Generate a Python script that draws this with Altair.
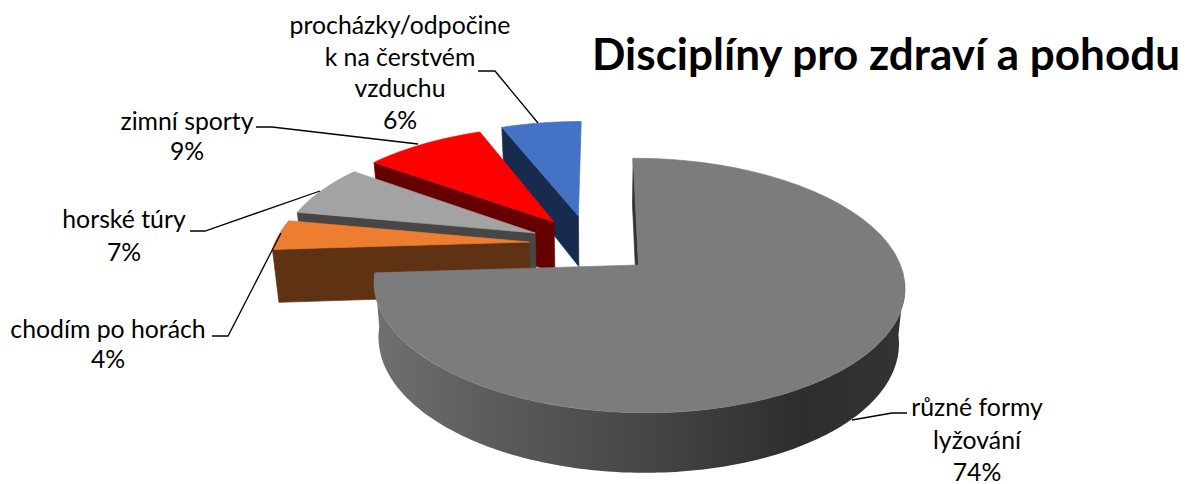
import math
import altair as alt
import pandas as pd

# ---- chart values
categories = ["různé formy lyžování", "chodím po horách", "horské túry", "zimní sporty",
              "procházky/odpočinek na čerstvém vzduchu"]
shares = [74, 4, 7, 9, 6]
label_lines = [["různé formy", "lyžování"], ["chodím po horách"], ["horské túry"], ["zimní sporty"],
               ["procházky/odpočine", "k na čerstvém", "vzduchu"]]
title_text = "Disciplíny pro zdraví a pohodu"

# ---- styles
top_colors = ["#7c7c7c", "#ed7d31", "#a3a3a3", "#ff0000", "#4472c4"]
side_colors = ["#333333", "#5f3213", "#464646", "#660000", "#172b4e"]
explode_x = [0.0, -0.425, -0.405, -0.333, -0.235]
explode_y = [0.0, -0.191, -0.269, -0.367, -0.422]
label_xy = [(977, 409), (108, 331), (124, 221), (187, 123), (400, 27)]
line_gap = [32.5, 30, 33, 30, 31.5]
leaders = [[(907, 413), (892, 413), (852, 420)],
           [(212, 336), (228, 336), (281, 233)],
           [(190, 231), (205, 231), (320, 191)],
           [(256, 127), (272, 127), (418, 144)],
           [(478, 71), (495, 71), (538, 123)]]

# ---- pie projection
VX, X0, RX, CY, RY, K, DEPTH, SHRINK = 600, 38.5, 262, 265, 124, 0.161, 54, 0.98


def top(X, Y):
    s = 1 / (1 - K * Y)
    return VX + (X0 + RX * X) * s, CY + RY * Y * s


def bottom(X, Y):
    s = 1 / (1 - K * Y)
    x, y = top(X, Y)
    return VX + (x - VX) * SHRINK, y + DEPTH * s


def rim_bottom(X, Y):
    x, y = top(X, Y)
    return VX + (x - VX) * SHRINK, y + 54 + 6 * Y


def rim_pt(theta, ox, oy):
    return ox + math.sin(theta), oy - math.cos(theta)


start = [sum(shares[:i]) / sum(shares) * 2 * math.pi for i in range(len(shares))]
stop = [sum(shares[:i + 1]) / sum(shares) * 2 * math.pi for i in range(len(shares))]


def to_rows(polys):
    rows = []
    for pid, (points, color) in enumerate(polys):
        for i, (x, y) in enumerate(points + points[:1]):
            rows.append({"x": x, "y": y, "poly": pid, "i": i, "c": color})
    return pd.DataFrame(rows)


def top_poly(idx):
    ox, oy = explode_x[idx], explode_y[idx]
    a0, a1 = start[idx], stop[idx]
    pts = [top(ox, oy)]
    for j in range(61):
        pts.append(top(*rim_pt(a0 + (a1 - a0) * j / 60, ox, oy)))
    return pts, top_colors[idx]


def side_poly(idx):
    ox, oy = explode_x[idx], explode_y[idx]
    p = rim_pt(start[idx], ox, oy)
    return [top(*p), top(ox, oy), bottom(ox, oy), bottom(*p)], side_colors[idx]


back = []
for idx in [4, 3, 2, 1]:
    back.append(side_poly(idx))
    back.append(top_poly(idx))
back.append(side_poly(0))

n = 160
lo, hi = math.radians(97), stop[0]
angles = [lo + (hi - lo) * j / n for j in range(n + 1)]
rim_pts = [top(*rim_pt(t, 0, 0)) for t in angles] + [rim_bottom(*rim_pt(t, 0, 0)) for t in reversed(angles)]

W, H = 1174, 476
xs = alt.Scale(domain=[8, 8 + W], nice=False, zero=False)
ys = alt.Scale(domain=[8 + H, 8], nice=False, zero=False)
X = alt.X("x:Q", scale=xs, axis=None)
Y = alt.Y("y:Q", scale=ys, axis=None)


def filled_layer(polys):
    return alt.Chart(to_rows(polys)).mark_line(filled=True, strokeWidth=0.7).encode(
        x=X, y=Y, detail="poly:N", order="i:Q",
        color=alt.Color("c:N", scale=None), stroke=alt.Stroke("c:N", scale=None))


back_layer = filled_layer(back)
rim_grad = alt.Gradient(gradient="linear", x1=0, x2=1, y1=0, y2=0, stops=[
    alt.GradientStop(offset=0, color="#707070"),
    alt.GradientStop(offset=0.24, color="#5a5a5a"),
    alt.GradientStop(offset=0.5, color="#474747"),
    alt.GradientStop(offset=0.8, color="#2e2e2e"),
    alt.GradientStop(offset=1, color="#333333")])
rim_layer = alt.Chart(to_rows([(rim_pts, "rim")])).mark_line(
    filled=True, fill=rim_grad, strokeWidth=0).encode(x=X, y=Y, order="i:Q")
front_layer = filled_layer([top_poly(0)])

lead_rows = []
for k, pts in enumerate(leaders):
    for i, (x, y) in enumerate(pts):
        lead_rows.append({"x": x, "y": y, "k": k, "i": i})
lead = alt.Chart(pd.DataFrame(lead_rows)).mark_line(color="#000000", strokeWidth=1.3).encode(
    x=X, y=Y, detail="k:N", order="i:Q")

text_rows = []
for lines, share, (x, y), gap in zip(label_lines, shares, label_xy, line_gap):
    for i, t in enumerate(lines + [f"{share}%"]):
        text_rows.append({"x": x, "y": y + i * gap, "t": t})
labels = alt.Chart(pd.DataFrame(text_rows)).mark_text(
    font="Lato", fontSize=24.8, color="#000000", align="center", baseline="middle"
).encode(x=X, y=Y, text="t:N")

title = alt.Chart(pd.DataFrame([{"x": 886, "y": 57, "t": title_text}])).mark_text(
    font="Lato", fontSize=44, fontWeight="bold", color="#000000", align="center", baseline="middle"
).encode(x=X, y=Y, text="t:N")

chart = alt.layer(back_layer, rim_layer, front_layer, lead, labels, title).properties(
    width=W, height=H, padding=0, autosize=alt.AutoSizeParams(type="none"), background="#ffffff"
).configure_view(stroke=None)

chart.save("out.html", embed_options={"renderer": "svg", "actions": False})
